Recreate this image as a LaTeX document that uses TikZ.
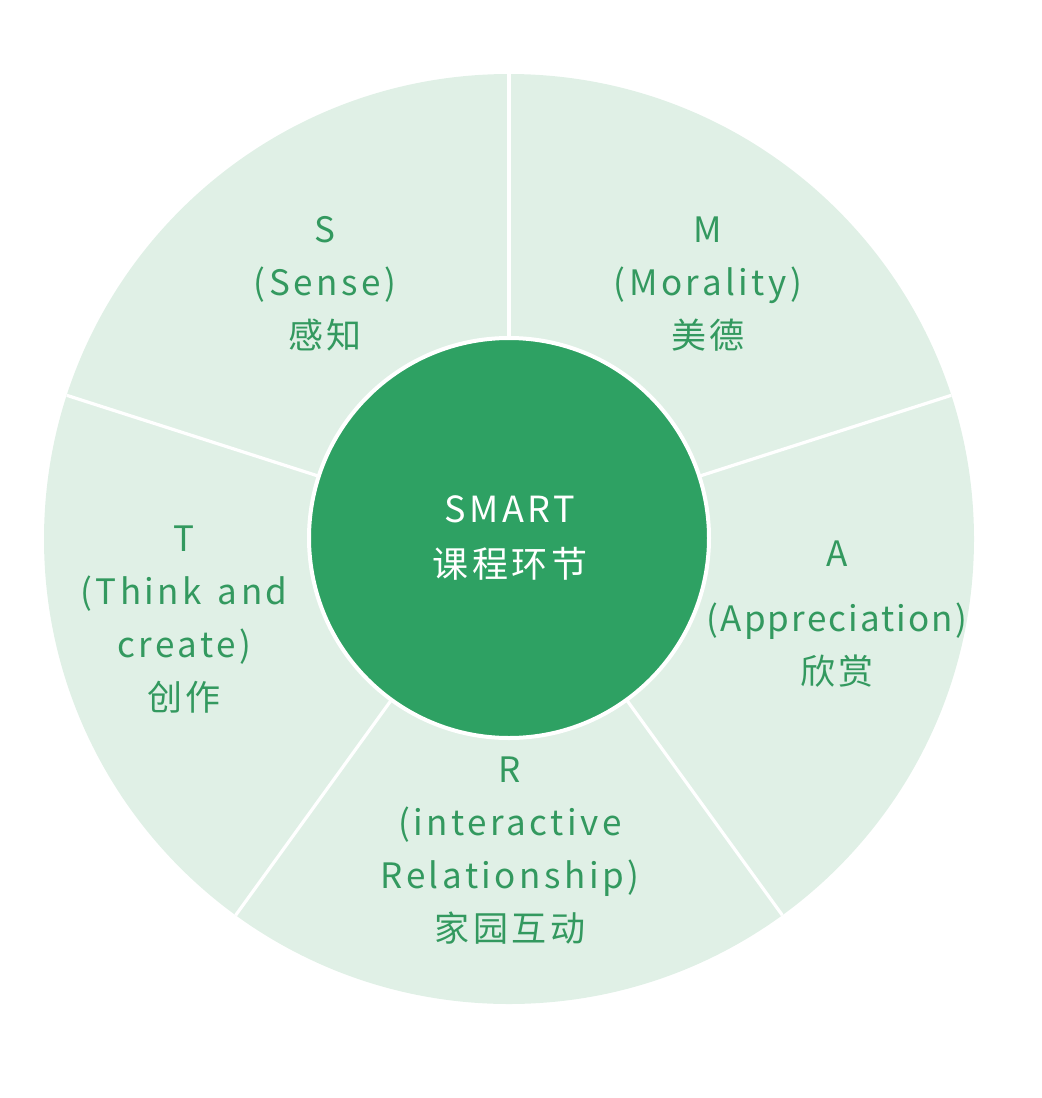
\documentclass[tikz,border=0pt]{standalone}
\usepackage{fontspec}
\setmainfont{Noto Sans CJK SC}[LetterSpace=10]
\definecolor{ringfill}{HTML}{E0F0E6}
\definecolor{coregreen}{HTML}{2EA163}
\definecolor{textgreen}{HTML}{33995F}
\begin{document}
\begin{tikzpicture}[x=0.5pt,y=-0.5pt,
  ring/.style={circle,fill=ringfill,minimum size=465pt,inner sep=0pt,outer sep=0pt},
  core/.style={circle,fill=coregreen,draw=white,line width=2pt,minimum size=200pt,inner sep=0pt,outer sep=0pt},
  divider/.style={draw=white,line width=1.6pt},
  lbl/.style={text=textgreen,font=\fontsize{17.5}{26.5}\selectfont,align=center,inner sep=0pt},
  corelbl/.style={text=white,font=\fontsize{18}{27.5}\selectfont,align=center,inner sep=0pt}]
\useasboundingbox (0,0) rectangle (1041,1098);
\node[ring] (outer) at (509,539) {};
\node[core] (inner) at (509,538) {};
\draw[divider] (outer.90) -- (inner.90);
\draw[divider] (outer.18) -- (inner.18);
\draw[divider] (outer.-54) -- (inner.-54);
\draw[divider] (outer.-126) -- (inner.-126);
\draw[divider] (outer.162) -- (inner.162);
\node[corelbl] (smart) at (510,538) {SMART\\课程环节};
\node[lbl] (s) at (325,284) {S\\(Sense)\\感知};
\node[lbl] (m) at (708,284) {M\\(Morality)\\美德};
\node[lbl] (t) at (184,620) {T\\(Think\hspace{0.45em}and\\create)\\创作};
\node[lbl,font=\fontsize{17.5}{26.5}\selectfont\addfontfeature{LetterSpace=6}] (a) at (837,614) {A\\[6pt](Appreciation)\\欣赏};
\node[lbl] (r) at (510,851) {R\\(interactive\\Relationship)\\家园互动};
\end{tikzpicture}
\end{document}
